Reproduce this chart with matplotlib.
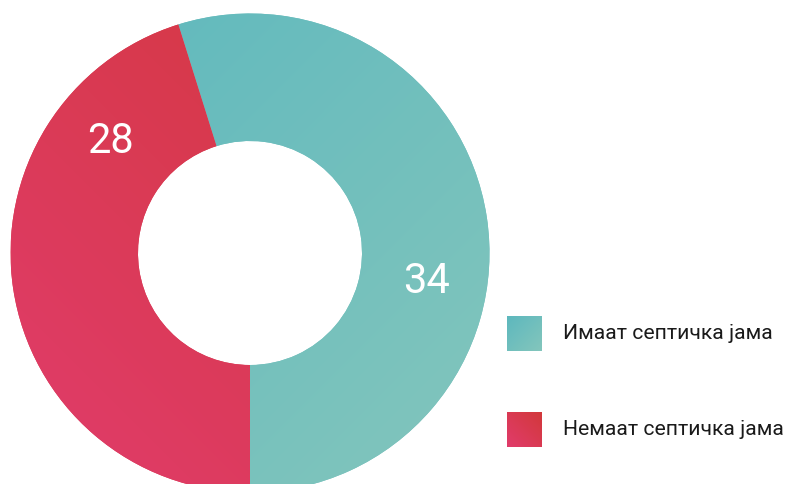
import numpy as np
import matplotlib
matplotlib.use("Agg")
import matplotlib.pyplot as plt
from matplotlib.patches import Rectangle

plt.rcParams['font.family'] = ['Roboto', 'DejaVu Sans']

labels = ['Имаат септичка јама', 'Немаат септичка јама']
values = [34, 28]
# gradient colours (start, end) per slice
grad_colors = [('#5db8be', '#84c6bc'), ('#d2383a', '#e13c6c')]
solid_colors = ['#70bfbe', '#d93b52']
# where along each wedge the value label sits (0 = start angle, 1 = end)
label_frac = [0.41, 0.21]

W, H = 786, 484
fig = plt.figure(figsize=(W / 100, H / 100), dpi=100)
ax = fig.add_axes([0, 0, 1, 1])

cx, cy = 250, H - 253
R, r = 239.5, 112

wedges, _ = ax.pie(values, colors=solid_colors, startangle=-90, counterclock=True,
                   radius=R, center=(cx, cy),
                   wedgeprops=dict(width=R - r, linewidth=0))


def gradient_img(c0, c1, direction):
    c0 = np.array(matplotlib.colors.to_rgb(c0))
    c1 = np.array(matplotlib.colors.to_rgb(c1))
    yy, xx = np.mgrid[0:1:200j, 0:1:200j]
    if direction == 'tl-br':
        t = (xx + yy) / 2
    else:  # tr-bl
        t = ((1 - xx) + yy) / 2
    return c0[None, None, :] * (1 - t[..., None]) + c1[None, None, :] * t[..., None]


dirs = ['tl-br', 'tr-bl']
for w, (c0, c1), d in zip(wedges, grad_colors, dirs):
    im = ax.imshow(gradient_img(c0, c1, d), extent=(cx - R, cx + R, cy - R, cy + R),
                   origin='upper', interpolation='bilinear', zorder=w.get_zorder() + 0.1)
    im.set_clip_path(w)

for w, v, f in zip(wedges, values, label_frac):
    ang = np.deg2rad(w.theta1 + f * (w.theta2 - w.theta1))
    rl = (R + r) / 2 + 3
    ax.text(cx + rl * np.cos(ang), cy + rl * np.sin(ang), str(v), color='white',
            fontsize=30, ha='center', va='center', zorder=5)

# legend, drawn by hand so the squares keep the gradient
sq = 35
for i, (lab, (c0, c1), d) in enumerate(zip(labels, grad_colors, dirs)):
    top = H - 316 - i * 96
    box = Rectangle((507, top - sq), sq, sq, facecolor=solid_colors[i], linewidth=0)
    ax.add_patch(box)
    im = ax.imshow(gradient_img(c0, c1, d), extent=(507, 507 + sq, top - sq, top),
                   origin='upper', interpolation='bilinear', zorder=3)
    im.set_clip_path(box)
    ax.text(563, top - sq / 2, lab, fontsize=15.2, color='#1a1a1a',
            ha='left', va='center')

ax.set_xlim(0, W)
ax.set_ylim(0, H)
ax.set_aspect('equal')
ax.axis('off')

fig.savefig('out.png', dpi=100)
